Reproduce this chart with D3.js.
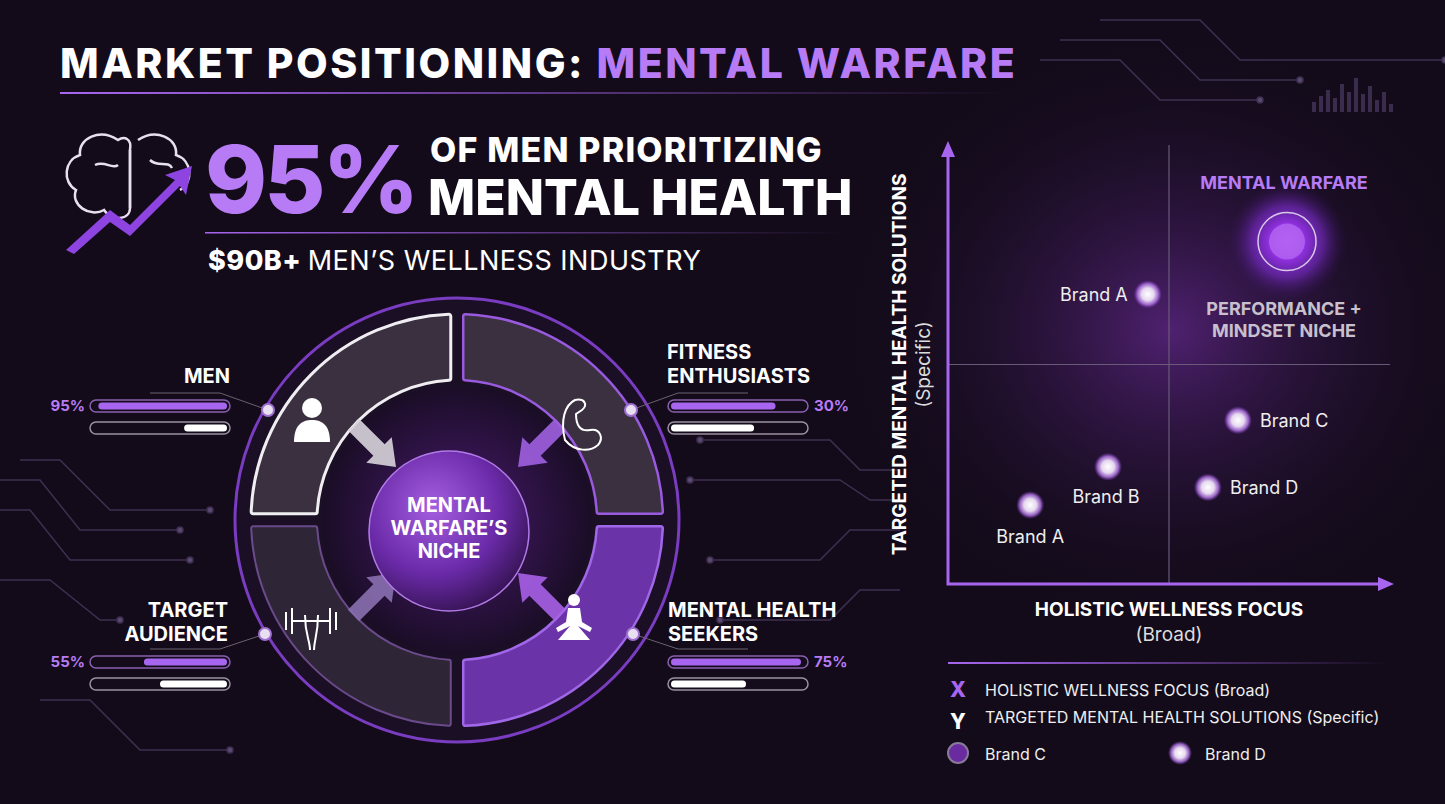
<!DOCTYPE html>
<html><head><meta charset="utf-8">
<script src="https://cdn.jsdelivr.net/npm/d3@7"></script>
<style>body{margin:0;background:#130b1a;overflow:hidden}svg{display:block}text{font-family:Inter,"Open Sans",sans-serif}</style>
</head><body><svg id="c" width="1445" height="804"></svg>
<script>
// ---- data ----
const segments = ["MEN","FITNESS ENTHUSIASTS","TARGET AUDIENCE","MENTAL HEALTH SEEKERS"];
const segmentLabels = [["MEN"],["FITNESS","ENTHUSIASTS"],["TARGET","AUDIENCE"],["MENTAL HEALTH","SEEKERS"]];
const segmentPct = ["95%","30%","55%","75%"];
const primaryFill = [0.96,0.78,0.62,0.97];
const secondaryFill = [0.32,0.62,0.5,0.56];
const brands = ["Brand A","Brand B","Brand C","Brand D","Brand A","Mental Warfare"];
const brandX = [1.86,3.62,6.56,5.88,4.52,7.67];
const brandY = [1.8,2.67,3.73,2.2,6.6,7.8];
const xLabel = "HOLISTIC WELLNESS FOCUS", xSub = "(Broad)";
const yLabel = "TARGETED MENTAL HEALTH SOLUTIONS", ySub = "(Specific)";
const legendItems = ["HOLISTIC WELLNESS FOCUS (Broad)","TARGETED MENTAL HEALTH SOLUTIONS (Specific)"];

const svg = d3.select("#c");
const P = "#a866f0", PL="#b77cf5";
const defs = svg.append("defs");
const rg = defs.append("radialGradient").attr("id","glow").attr("cx","50%").attr("cy","50%").attr("r","50%");
rg.append("stop").attr("offset","0%").attr("stop-color","#5a2580").attr("stop-opacity",0.85);
rg.append("stop").attr("offset","100%").attr("stop-color","#130b1a").attr("stop-opacity",0);
const sg = defs.append("radialGradient").attr("id","sphere").attr("cx","40%").attr("cy","35%").attr("r","70%");
sg.append("stop").attr("offset","0%").attr("stop-color","#a45ee0");
sg.append("stop").attr("offset","60%").attr("stop-color","#6a2aa8");
sg.append("stop").attr("offset","100%").attr("stop-color","#33124f");
const dg = defs.append("radialGradient").attr("id","dot");
dg.append("stop").attr("offset","0%").attr("stop-color","#ffffff");
dg.append("stop").attr("offset","45%").attr("stop-color","#e6d8f0");
dg.append("stop").attr("offset","75%").attr("stop-color","#b67ae8").attr("stop-opacity",0.8);
dg.append("stop").attr("offset","100%").attr("stop-color","#8a3fd0").attr("stop-opacity",0);
const mg = defs.append("radialGradient").attr("id","mw");
mg.append("stop").attr("offset","0%").attr("stop-color","#c070ff");
mg.append("stop").attr("offset","30%").attr("stop-color","#9030e0");
mg.append("stop").attr("offset","60%").attr("stop-color","#7028b8").attr("stop-opacity",0.7);
mg.append("stop").attr("offset","100%").attr("stop-color","#301050").attr("stop-opacity",0);
const lg = defs.append("linearGradient").attr("id","ul");
lg.append("stop").attr("offset","0%").attr("stop-color",P);
lg.append("stop").attr("offset","100%").attr("stop-color",P).attr("stop-opacity",0);
const cg = defs.append("radialGradient").attr("id","centerglow");
cg.append("stop").attr("offset","0%").attr("stop-color","#4a1a70");
cg.append("stop").attr("offset","100%").attr("stop-color","#1a0d26");

svg.append("rect").attr("width",1445).attr("height",804).attr("fill","#130b1a");
svg.append("ellipse").attr("cx",1170).attr("cy",330).attr("rx",330).attr("ry",300).attr("fill","url(#glow)");

// circuit decorations
const circ = svg.append("g").attr("stroke","#3e3050").attr("fill","none").attr("stroke-width",1.5);
[[0,480,40,480,80,530,180,530],[0,510,30,510,70,560,190,560],[0,580,50,580,100,620,120,620],[20,460,60,460,110,510,210,510],[40,700,90,700,140,750,230,750],[900,470,860,470,830,440,700,440],[900,530,850,530,820,560,710,560],[900,590,860,590,830,620,720,620],[900,500,870,500,840,480,690,480],[1060,40,1160,40,1200,80,1300,80],[1100,20,1200,20,1240,60,1445,60],[1040,60,1120,60,1160,100,1260,100]].forEach(p=>{
  circ.append("path").attr("d",d3.line()(d3.range(0,p.length,2).map(i=>[p[i],p[i+1]])));
  circ.append("circle").attr("cx",p[p.length-2]).attr("cy",p[p.length-1]).attr("r",3).attr("fill","#5a4870");
});
const eq=[10,16,22,14,28,20,34,18,26,12,20,8];
svg.append("g").selectAll("rect").data(eq).join("rect").attr("x",(d,i)=>1312+i*7).attr("y",d=>112-d).attr("width",4).attr("height",d=>d).attr("fill","#3a2c4c");

// title
const t = svg.append("text").attr("x",60).attr("y",78).attr("font-size",41).attr("font-weight",800).attr("letter-spacing",2.5);
t.append("tspan").attr("fill","#fff").text("MARKET POSITIONING: ");
t.append("tspan").attr("fill",PL).text("MENTAL WARFARE");
svg.append("rect").attr("x",60).attr("y",92).attr("width",950).attr("height",2).attr("fill","url(#ul)");

// brain icon
const b = svg.append("g").attr("stroke","#e8e0ee").attr("fill","none").attr("stroke-width",2.5);
b.append("path").attr("d","M118,140 C100,128 78,138 80,155 C64,160 62,182 76,190 C70,205 90,218 104,210 C112,222 130,220 130,208 L130,150 C132,138 124,136 118,140 Z");
b.append("path").attr("d","M138,140 C156,128 178,138 176,155 C192,160 194,182 180,190 M130,150 L130,208 M95,165 C105,160 112,170 118,165 M150,160 C158,168 168,160 172,168");
svg.append("path").attr("d","M66,250 L110,210 L130,225 L175,180 L165,175 L192,166 L186,195 L180,186 L130,236 L110,222 L74,254 Z").attr("fill","#8e44e0");

svg.append("text").attr("x",205).attr("y",213).attr("font-size",94).attr("font-weight",800).attr("fill",PL).attr("letter-spacing",-3).text("95%");
svg.append("text").attr("x",430).attr("y",162).attr("font-size",34).attr("font-weight",800).attr("fill","#fff").attr("letter-spacing",1.2).text("OF MEN PRIORITIZING");
svg.append("text").attr("x",428).attr("y",215).attr("font-size",50).attr("font-weight",800).attr("fill","#fff").text("MENTAL HEALTH");
svg.append("rect").attr("x",205).attr("y",232).attr("width",640).attr("height",1.5).attr("fill","url(#ul)");
const s2 = svg.append("text").attr("x",208).attr("y",270).attr("font-size",27).attr("fill","#fff").attr("letter-spacing",0.5);
s2.append("tspan").attr("font-weight",800).text("$90B+ ");
s2.append("tspan").attr("font-weight",400).text("MEN’S WELLNESS INDUSTRY");

// ring
const cx=457, cy=520;
svg.append("circle").attr("cx",cx).attr("cy",cy).attr("r",222).attr("fill","#1a0f24").attr("stroke","#7a3cc0").attr("stroke-width",3);
svg.append("circle").attr("cx",cx).attr("cy",cy).attr("r",135).attr("fill","url(#centerglow)");
const arc = d3.arc().innerRadius(140).outerRadius(206).padAngle(0.05).cornerRadius(2);
const segStyle = [
  {fill:"#3a3040",stroke:"#f0eef2",sw:3},
  {fill:"#3a3040",stroke:"#9a5ae0",sw:2.5},
  {fill:"#2e2636",stroke:"#6a4a8a",sw:2},
  {fill:"#6a34a8",stroke:"#a068e8",sw:2.5}];
const angles=[[-Math.PI/2,0],[0,Math.PI/2],[-Math.PI,-Math.PI/2],[Math.PI/2,Math.PI]];
svg.append("g").attr("transform",`translate(${cx},${cy})`).selectAll("path").data(segments).join("path")
  .attr("d",(d,i)=>arc({startAngle:angles[i][0],endAngle:angles[i][1]}))
  .attr("fill",(d,i)=>segStyle[i].fill).attr("stroke",(d,i)=>segStyle[i].stroke).attr("stroke-width",(d,i)=>segStyle[i].sw);

const arrCol=["#d8d4dc","#a060e0","#8a70b0","#a860e8"];
const arrDir=[[-1,-1],[1,-1],[-1,1],[1,1]];
arrDir.forEach(([dx,dy],i)=>{
  const g=svg.append("g").attr("transform",`translate(${cx+dx*78},${cy+dy*70}) rotate(${Math.atan2(-dy,-dx)*180/Math.PI})`);
  g.append("path").attr("d","M-36,-8 L0,-8 L0,-18 L24,0 L0,18 L0,8 L-36,8 Z").attr("fill",arrCol[i]).attr("opacity",0.9);
});
svg.append("circle").attr("cx",449).attr("cy",531).attr("r",80).attr("fill","url(#sphere)").attr("stroke","#b27ae8").attr("stroke-width",1.5);
["MENTAL","WARFARE’S","NICHE"].forEach((s,i)=>svg.append("text").attr("x",449).attr("y",512+i*23).attr("text-anchor","middle").attr("font-size",20).attr("font-weight",700).attr("fill","#fff").text(s));

// icons
const ic=svg.append("g").attr("fill","#fff");
ic.append("circle").attr("cx",312).attr("cy",408).attr("r",10);
ic.append("path").attr("d","M294,442 C294,425 302,420 312,420 C322,420 330,425 330,442 Z");
const ol=svg.append("g").attr("fill","none").attr("stroke","#fff").attr("stroke-width",2);
ol.append("path").attr("d","M565,440 C560,420 565,405 575,400 C585,398 588,405 582,410 L576,414 C576,425 580,432 590,430 C600,428 604,438 598,445 C590,452 575,452 565,440 Z");
ol.append("path").attr("d","M286,612 L286,630 M292,608 L292,634 M330,608 L330,634 M336,612 L336,630 M292,621 L330,621 M305,615 C305,635 310,640 310,650 M318,615 C318,635 314,640 314,650");
ic.append("circle").attr("cx",574).attr("cy",600).attr("r",6);
ic.append("path").attr("d","M568,608 L580,608 L582,622 L592,628 L590,632 L578,626 L590,640 L558,640 L570,626 L558,632 L556,628 L566,622 Z");

// labels and bars
const side=[
 {lx:230,ly:[383],anchor:"end",dot:[268,410],bx:90,by:400,pct:"left",align:"right"},
 {lx:667,ly:[359,383],anchor:"start",dot:[631,410],bx:668,by:400,pct:"right",align:"left"},
 {lx:228,ly:[617,641],anchor:"end",dot:[265,634],bx:90,by:656,pct:"left",align:"right"},
 {lx:668,ly:[617,641],anchor:"start",dot:[633,634],bx:668,by:656,pct:"right",align:"left"}];
const bw=140,bh=12;
const x01=d3.scaleLinear().domain([0,1]).range([0,bw-6]);
segments.forEach((s,i)=>{
  const o=side[i];
  segmentLabels[i].forEach((l,j)=>svg.append("text").attr("x",o.lx).attr("y",o.ly[j]).attr("text-anchor",o.anchor).attr("font-size",20).attr("font-weight",700).attr("fill","#fff").text(l));
  const lineY=o.by-7, lineEnd=o.anchor==="end"?o.bx+bw-10:o.bx+10;
  svg.append("path").attr("d",`M${o.anchor==="end"?o.bx+60:o.bx+bw-60},${lineY} L${lineEnd},${lineY} L${o.dot[0]},${o.dot[1]}`).attr("stroke","#6a6070").attr("fill","none");
  svg.append("circle").attr("cx",o.dot[0]).attr("cy",o.dot[1]).attr("r",6).attr("fill","#e8e0f0").attr("stroke","#a070d0").attr("stroke-width",2);
  [[primaryFill[i],P,o.by],[secondaryFill[i],"#fff",o.by+22]].forEach(([v,c,y])=>{
    svg.append("rect").attr("x",o.bx).attr("y",y).attr("width",bw).attr("height",bh).attr("rx",6).attr("fill","#140c1a").attr("stroke",c==="#fff"?"#9a90a0":"#8a60b0").attr("stroke-width",1.5);
    const w=x01(v);
    svg.append("rect").attr("x",o.align==="right"?o.bx+bw-3-w:o.bx+3).attr("y",y+2.5).attr("width",w).attr("height",bh-5).attr("rx",3.5).attr("fill",c);
  });
  svg.append("text").attr("x",o.pct==="left"?o.bx-5:o.bx+bw+6).attr("y",o.by+11).attr("text-anchor",o.pct==="left"?"end":"start").attr("font-size",15).attr("font-weight",700).attr("fill",PL).text(segmentPct[i]);
});

// scatter
const X=d3.scaleLinear().domain([0,10]).range([948,1390]);
const Y=d3.scaleLinear().domain([0,10]).range([584,145]);
svg.append("line").attr("x1",X(5)).attr("x2",X(5)).attr("y1",Y(10)).attr("y2",Y(0)).attr("stroke","#6a5a7a").attr("stroke-width",1.2);
svg.append("line").attr("x1",X(0)).attr("x2",X(10)).attr("y1",Y(5)).attr("y2",Y(5)).attr("stroke","#6a5a7a").attr("stroke-width",1.2);
svg.append("path").attr("d",`M${X(0)},${Y(10)+6} L${X(0)},${Y(0)} L${X(10)-6},${Y(0)}`).attr("stroke",P).attr("stroke-width",3).attr("fill","none");
svg.append("path").attr("d",`M${X(0)-7},${Y(10)+12} L${X(0)},${Y(10)-4} L${X(0)+7},${Y(10)+12}Z`).attr("fill",P);
svg.append("path").attr("d",`M${X(10)-12},${Y(0)-7} L${X(10)+4},${Y(0)} L${X(10)-12},${Y(0)+7}Z`).attr("fill",P);
svg.append("text").attr("x",X(5)).attr("y",616).attr("text-anchor","middle").attr("font-size",19).attr("font-weight",700).attr("fill","#fff").text(xLabel);
svg.append("text").attr("x",X(5)).attr("y",641).attr("text-anchor","middle").attr("font-size",19).attr("fill","#ddd").text(xSub);
svg.append("text").attr("transform",`translate(906,${Y(5)}) rotate(-90)`).attr("text-anchor","middle").attr("font-size",19).attr("font-weight",700).attr("fill","#fff").text(yLabel);
svg.append("text").attr("transform",`translate(930,${Y(5)}) rotate(-90)`).attr("text-anchor","middle").attr("font-size",19).attr("fill","#ddd").text(ySub);

const lblOff=[[0,38,"middle"],[-2,36,"middle"],[22,7,"start"],[22,7,"start"],[-20,7,"end"]];
brands.forEach((br,i)=>{
  const px=X(brandX[i]),py=Y(brandY[i]);
  if(i===5){
    svg.append("circle").attr("cx",px).attr("cy",py).attr("r",60).attr("fill","url(#mw)");
    svg.append("circle").attr("cx",px).attr("cy",py).attr("r",29).attr("fill","none").attr("stroke","#d8c8e8").attr("stroke-width",1.5);
    svg.append("circle").attr("cx",px).attr("cy",py).attr("r",18).attr("fill","#b060f0").attr("opacity",0.9);
    svg.append("text").attr("x",px-3).attr("y",py-53).attr("text-anchor","middle").attr("font-size",18).attr("font-weight",700).attr("fill",PL).text("MENTAL WARFARE");
    svg.append("text").attr("x",px-3).attr("y",py+73).attr("text-anchor","middle").attr("font-size",18).attr("font-weight",700).attr("fill","#c8c0cc").text("PERFORMANCE +");
    svg.append("text").attr("x",px-3).attr("y",py+95).attr("text-anchor","middle").attr("font-size",18).attr("font-weight",700).attr("fill","#c8c0cc").text("MINDSET NICHE");
  } else {
    svg.append("circle").attr("cx",px).attr("cy",py).attr("r",14).attr("fill","url(#dot)");
    const o=lblOff[i];
    svg.append("text").attr("x",px+o[0]).attr("y",py+o[1]).attr("text-anchor",o[2]).attr("font-size",18).attr("fill","#eee").text(br);
  }
});

// legend
svg.append("rect").attr("x",948).attr("y",662).attr("width",442).attr("height",2).attr("fill","url(#ul)");
svg.append("text").attr("x",958).attr("y",697).attr("text-anchor","middle").attr("font-size",21).attr("font-weight",800).attr("fill",P).text("X");
svg.append("text").attr("x",958).attr("y",729).attr("text-anchor","middle").attr("font-size",21).attr("font-weight",800).attr("fill","#fff").text("Y");
legendItems.forEach((l,i)=>svg.append("text").attr("x",985).attr("y",696+i*27).attr("font-size",16).attr("fill","#eee").text(l));
svg.append("circle").attr("cx",958).attr("cy",753).attr("r",10).attr("fill","#6a2aa0").attr("stroke","#8a7a9a").attr("stroke-width",2);
svg.append("text").attr("x",985).attr("y",760).attr("font-size",16).attr("fill","#eee").text("Brand C");
svg.append("circle").attr("cx",1180).attr("cy",753).attr("r",12).attr("fill","url(#dot)");
svg.append("text").attr("x",1205).attr("y",760).attr("font-size",16).attr("fill","#eee").text("Brand D");
</script></body></html>
